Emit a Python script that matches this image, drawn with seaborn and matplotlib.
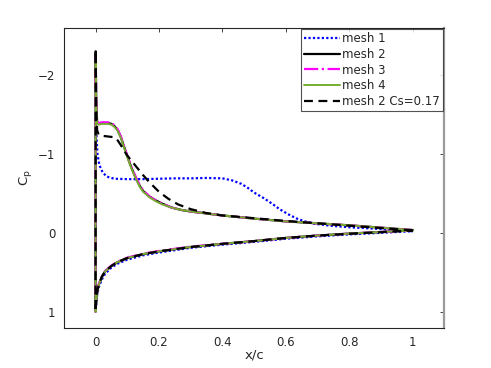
import matplotlib
matplotlib.use("Agg")
import matplotlib.pyplot as plt
import seaborn as sns
import numpy as np
import pandas as pd

# upper surface (from leading-edge stagnation point to trailing edge)
x_up_m2 = [0, 0.0005, 0.002, 0.005, 0.01, 0.02, 0.03, 0.04, 0.05, 0.06, 0.07, 0.08, 0.09, 0.10,
           0.11, 0.12, 0.13, 0.14, 0.15, 0.17, 0.19, 0.21, 0.24, 0.27, 0.30, 0.35, 0.40, 0.50,
           0.60, 0.70, 0.80, 0.90, 1.00]
cp_up_m2 = [1.0, -2.3, -1.7, -1.40, -1.38, -1.39, -1.39, -1.39, -1.38, -1.35, -1.30, -1.21, -1.09, -0.97,
            -0.86, -0.76, -0.67, -0.59, -0.53, -0.46, -0.41, -0.37, -0.32, -0.29, -0.27, -0.245, -0.22, -0.18,
            -0.145, -0.12, -0.095, -0.065, -0.035]
cp_up_m3 = [1.0, -2.25, -1.68, -1.41, -1.39, -1.40, -1.40, -1.40, -1.39, -1.36, -1.31, -1.22, -1.10, -0.98,
            -0.87, -0.77, -0.68, -0.60, -0.54, -0.46, -0.41, -0.37, -0.32, -0.29, -0.27, -0.245, -0.22, -0.18,
            -0.145, -0.12, -0.095, -0.065, -0.035]
cp_up_m4 = [1.0, -2.2, -1.66, -1.39, -1.37, -1.38, -1.38, -1.38, -1.37, -1.34, -1.29, -1.20, -1.08, -0.96,
            -0.85, -0.75, -0.66, -0.58, -0.52, -0.45, -0.40, -0.36, -0.32, -0.29, -0.27, -0.245, -0.22, -0.18,
            -0.145, -0.12, -0.095, -0.065, -0.035]

x_up_cs = [0, 0.0005, 0.002, 0.005, 0.01, 0.02, 0.04, 0.06, 0.07, 0.08, 0.09, 0.10, 0.11, 0.12, 0.13,
           0.15, 0.17, 0.20, 0.23, 0.26, 0.30, 0.35, 0.40, 0.50, 0.60, 0.70, 0.80, 0.90, 1.00]
cp_up_cs = [1.0, -2.3, -1.6, -1.3, -1.24, -1.23, -1.22, -1.21, -1.17, -1.11, -1.04, -0.98, -0.93, -0.88, -0.83,
            -0.73, -0.64, -0.52, -0.43, -0.36, -0.30, -0.25, -0.22, -0.185, -0.15, -0.12, -0.09, -0.06, -0.03]

x_up_m1 = [0, 0.0005, 0.002, 0.006, 0.012, 0.022, 0.033, 0.044, 0.06, 0.10, 0.15, 0.20, 0.25, 0.30, 0.35,
           0.40, 0.43, 0.46, 0.48, 0.50, 0.53, 0.56, 0.58, 0.61, 0.635, 0.66, 0.69, 0.74, 0.80, 0.85,
           0.90, 0.95, 1.00]
cp_up_m1 = [1.0, -1.5, -1.3, -1.0, -0.86, -0.77, -0.72, -0.70, -0.685, -0.68, -0.68, -0.685, -0.69, -0.69, -0.695,
            -0.69, -0.665, -0.62, -0.57, -0.51, -0.44, -0.36, -0.30, -0.23, -0.18, -0.145, -0.115, -0.09, -0.07, -0.06,
            -0.047, -0.035, -0.02]

# lower surface (leading edge to trailing edge)
x_lo = [0, 0.002, 0.005, 0.01, 0.02, 0.03, 0.05, 0.07, 0.10, 0.15, 0.20, 0.30, 0.40, 0.50, 0.60, 0.70,
        0.80, 0.90, 1.00]
cp_lo_m1 = [1.0, 0.90, 0.79, 0.69, 0.59, 0.52, 0.44, 0.39, 0.34, 0.285, 0.25, 0.19, 0.15, 0.115, 0.075, 0.045,
            0.02, 0.0, -0.02]
cp_lo_m2 = [1.0, 0.88, 0.76, 0.66, 0.56, 0.49, 0.42, 0.37, 0.32, 0.27, 0.235, 0.18, 0.14, 0.105, 0.065, 0.035,
            0.01, -0.01, -0.03]
cp_lo_m3 = [1.0, 0.87, 0.75, 0.65, 0.555, 0.485, 0.415, 0.365, 0.315, 0.265, 0.23, 0.175, 0.14, 0.105, 0.065, 0.035,
            0.01, -0.01, -0.03]
cp_lo_m4 = [1.0, 0.88, 0.76, 0.66, 0.56, 0.49, 0.42, 0.37, 0.32, 0.27, 0.235, 0.18, 0.14, 0.105, 0.065, 0.035,
            0.01, -0.01, -0.03]
cp_lo_cs = [1.0, 0.87, 0.75, 0.655, 0.555, 0.49, 0.42, 0.37, 0.32, 0.27, 0.235, 0.18, 0.14, 0.105, 0.065, 0.035,
            0.012, -0.008, -0.03]

x_ticks = [0, 0.2, 0.4, 0.6, 0.8, 1]
x_ticklabels = ["0", "0.2", "0.4", "0.6", "0.8", "1"]
y_ticks = [-2, -1, 0, 1]
y_ticklabels = ["\u22122", "\u22121", "0", "1"]

sns.set_style("white")
plt.rcParams["font.family"] = ["DejaVu Sans"]

fig = plt.figure(figsize=(4.91, 3.68), dpi=100)
ax = fig.add_axes([0.13, 0.11, 0.775, 0.815])

series = [
    ("mesh 1", x_up_m1, cp_up_m1, cp_lo_m1, "#0000FF", (0, (1, 1)), 1.6),
    ("mesh 2", x_up_m2, cp_up_m2, cp_lo_m2, "black", "-", 1.6),
    ("mesh 3", x_up_m2, cp_up_m3, cp_lo_m3, "#FF00FF", "-.", 1.6),
    ("mesh 4", x_up_m2, cp_up_m4, cp_lo_m4, "#77AC30", "-", 1.4),
    ("mesh 2 Cs=0.17", x_up_cs, cp_up_cs, cp_lo_cs, "black", (0, (4, 2.5)), 1.6),
]

for name, xu, cu, cl, col, ls, lw in series:
    # trailing edge -> leading edge along upper, then leading edge -> trailing edge along lower
    xs = list(xu[::-1]) + list(x_lo)
    cs = list(cu[::-1]) + list(cl)
    df = pd.DataFrame({"x": xs, "cp": cs})
    sns.lineplot(data=df, x="x", y="cp", sort=False, estimator=None, ax=ax,
                 color=col, linestyle=ls, linewidth=lw, label=name)

ax.set_xlim(-0.1, 1.1)
ax.set_ylim(1.2, -2.6)
ax.set_xticks(x_ticks)
ax.set_xticklabels(x_ticklabels)
ax.set_yticks(y_ticks)
ax.set_yticklabels(y_ticklabels)
ax.tick_params(direction="in", length=3, width=0.6, top=True, right=True,
               labelsize=8.5, colors="#262626", pad=6)
ax.set_xlabel("x/c", fontsize=9.5, color="#262626", labelpad=0)
ax.set_ylabel("C$_\\mathrm{p}$", fontsize=9.5, color="#262626", labelpad=3)

for s in ["left", "bottom", "top"]:
    ax.spines[s].set_color("#262626")
    ax.spines[s].set_linewidth(0.8)
ax.spines["right"].set_color("#9a9a9a")
ax.spines["right"].set_linewidth(1.6)

leg = ax.legend(loc="upper right", fontsize=8.5, frameon=True, fancybox=False,
                edgecolor="#262626", borderaxespad=0.1, handlelength=3.0,
                handletextpad=0.2, labelspacing=0.22, borderpad=0.3)
leg.get_frame().set_linewidth(0.8)

fig.savefig("out.png", dpi=100)
